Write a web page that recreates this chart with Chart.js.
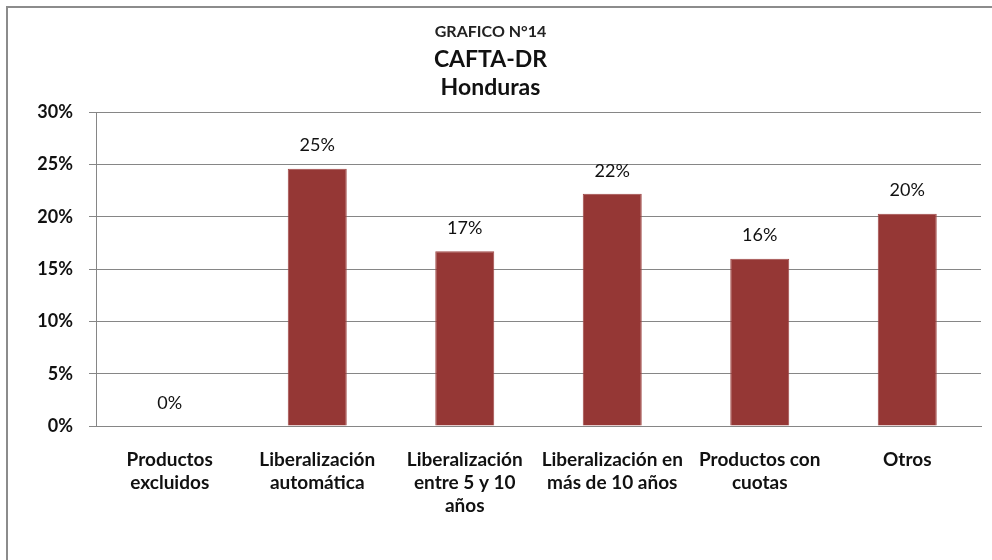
<!DOCTYPE html>
<html>
<head>
<meta charset="utf-8">
<script src="https://cdn.jsdelivr.net/npm/chart.js@4/dist/chart.umd.min.js"></script>
<style>
  html, body { margin: 0; padding: 0; background: #fff; width: 992px; height: 560px; overflow: hidden; }
  #frame { position: absolute; left: 6px; top: 6px; width: 1000px; height: 600px;
           border-left: 2px solid #8c8c8c; border-top: 2px solid #8c8c8c; box-sizing: border-box; }
  #c { position: absolute; left: 0; top: 0; }
</style>
</head>
<body>
<div id="frame"></div>
<canvas id="c" width="992" height="560"></canvas>
<script>
const titleMain = "GRAFICO N°14";
const titleSub = ["CAFTA-DR", "Honduras"];
const categories = [
  ["Productos", "excluidos"],
  ["Liberalización", "automática"],
  ["Liberalización", "entre 5 y 10", "años"],
  ["Liberalización en", "más de 10 años"],
  ["Productos con", "cuotas"],
  ["Otros"]
];
const values = [0, 24.6, 16.7, 22.2, 16.0, 20.3];
const yTicks = [0, 5, 10, 15, 20, 25, 30];

const FONT = "Lato, 'Open Sans', sans-serif";

const dataLabels = {
  id: 'dataLabels',
  afterDatasetsDraw(chart) {
    const ctx = chart.ctx;
    const meta = chart.getDatasetMeta(0);
    ctx.save();
    ctx.font = "18px " + FONT;
    ctx.fillStyle = "#111";
    ctx.textAlign = "center";
    ctx.textBaseline = "middle";
    meta.data.forEach((bar, i) => {
      ctx.fillText(Math.round(values[i]) + "%", bar.x, bar.y - 23);
    });
    ctx.restore();
  }
};

new Chart(document.getElementById('c'), {
  type: 'bar',
  data: {
    labels: categories,
    datasets: [{
      data: values,
      backgroundColor: '#953735',
      borderColor: '#a04a48',
      borderWidth: 1,
      barPercentage: 0.4,
      categoryPercentage: 1.0
    }]
  },
  options: {
    responsive: false,
    animation: false,
    devicePixelRatio: 1,
    layout: { padding: { left: 0, right: 11, top: 0, bottom: 0 } },
    plugins: {
      legend: { display: false },
      tooltip: { enabled: false },
      title: {
        display: true,
        text: titleMain,
        color: '#222',
        font: { family: FONT, size: 16, weight: 'bold', lineHeight: 1.2 },
        padding: { top: 22, bottom: 4 }
      },
      subtitle: {
        display: true,
        text: titleSub,
        color: '#111',
        font: { family: FONT, size: 23, weight: 'bold', lineHeight: 1.217 },
        padding: { top: 0, bottom: 11 }
      }
    },
    scales: {
      x: {
        grid: { display: false, drawTicks: false },
        border: { display: true, color: '#868686', width: 1 },
        ticks: {
          color: '#111',
          font: { family: FONT, size: 19, weight: 'bold', lineHeight: 1.21 },
          padding: 22,
          maxRotation: 0,
          autoSkip: false
        },
        afterFit(s) { s.height = 134; }
      },
      y: {
        min: 0,
        max: 30,
        afterBuildTicks(s) { s.ticks = yTicks.map(v => ({ value: v })); },
        grid: { color: '#868686', lineWidth: 1, tickLength: 7, drawTicks: true },
        border: { display: true, color: '#868686', width: 1 },
        ticks: {
          color: '#111',
          font: { family: FONT, size: 18, weight: 'bold' },
          padding: 16,
          callback: v => v + '%'
        },
        afterFit(s) { s.width = 96; }
      }
    }
  },
  plugins: [dataLabels]
});
</script>
</body>
</html>
